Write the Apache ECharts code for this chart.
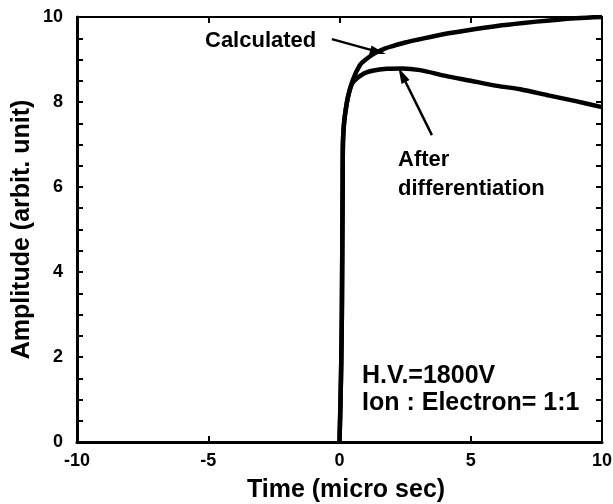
<!DOCTYPE html>
<html>
<head>
<meta charset="utf-8">
<script src="https://cdn.jsdelivr.net/npm/echarts@6/dist/echarts.min.js"></script>
<style>
  html, body { margin: 0; padding: 0; background: #fff; }
  #chart { width: 613px; height: 504px; }
</style>
</head>
<body>
<div id="chart"></div>
<script>
// Pulse shape of the detector signal: calculated and after differentiation
const timeCalculated = [0, 0.04, 0.07, 0.09, 0.10, 0.11, 0.12, 0.13, 0.16, 0.21, 0.32, 0.51, 0.78, 1.0, 1.35, 1.66, 2.0, 2.5, 3.0, 4.0, 5.0, 6.0, 7.0, 8.0, 9.0, 10.0];
const ampCalculated  = [0, 1.0, 2.0, 3.0, 4.0, 5.0, 6.0, 7.0, 7.4, 7.7, 8.12, 8.52, 8.87, 9.0, 9.15, 9.24, 9.31, 9.4, 9.47, 9.6, 9.7, 9.79, 9.86, 9.92, 9.97, 10.0];

const timeDiff = [0, 0.04, 0.07, 0.09, 0.10, 0.11, 0.12, 0.13, 0.16, 0.21, 0.32, 0.5, 0.9, 1.3, 1.8, 2.4, 3.07, 4.0, 5.0, 6.0, 6.88, 8.0, 9.0, 10.0];
const ampDiff  = [0, 1.0, 2.0, 3.0, 4.0, 5.0, 6.0, 7.0, 7.4, 7.7, 8.1, 8.45, 8.66, 8.74, 8.78, 8.79, 8.75, 8.62, 8.5, 8.38, 8.3, 8.15, 8.02, 7.88];

const xTicks = [-10, -5, 0, 5, 10];
const yTicks = [0, 2, 4, 6, 8, 10];

// Annotation arrows, in data coordinates: [tail, head]
const arrowCalculated = [[-0.29, 9.48], [1.47, 9.18]];
const arrowDiff = [[3.52, 7.22], [2.38, 8.64]];

const FONT = '"Liberation Sans", Arial, Helvetica, sans-serif';

function pairs(xs, ys) { return xs.map((x, i) => [x, ys[i]]); }

function arrow(seg) {
  return [
    { coord: seg[0], symbol: 'none' },
    { coord: seg[1], symbol: 'triangle', symbolSize: [9, 16] }
  ];
}

const chart = echarts.init(document.getElementById('chart'), null, { renderer: 'canvas' });

const tickLabel = { fontFamily: FONT, fontWeight: 'bold', fontSize: 18, color: '#000' };

chart.setOption({
  animation: false,
  backgroundColor: '#fff',
  grid: { left: 77, right: 11, top: 17, bottom: 62, containLabel: false, outerBoundsMode: 'none' },
  xAxis: [
    {
      type: 'value', min: xTicks[0], max: xTicks[xTicks.length - 1], interval: 5,
      position: 'bottom',
      name: 'Time (micro sec)', nameLocation: 'middle', nameGap: 36,
      nameTextStyle: { fontFamily: FONT, fontWeight: 'bold', fontSize: 25, color: '#000', padding: [0, 0, 0, 13] },
      axisLine: { show: true, onZero: false, lineStyle: { color: '#000', width: 3 } },
      axisTick: { show: true, inside: true, length: 6, lineStyle: { color: '#000', width: 2 } },
      axisLabel: Object.assign({ margin: 10 }, tickLabel),
      splitLine: { show: false }
    },
    {
      type: 'value', min: xTicks[0], max: xTicks[xTicks.length - 1], interval: 5,
      position: 'top',
      axisLine: { show: true, onZero: false, lineStyle: { color: '#000', width: 2 } },
      axisTick: { show: true, inside: true, length: 6, lineStyle: { color: '#000', width: 2 } },
      axisLabel: { show: false },
      splitLine: { show: false }
    }
  ],
  yAxis: [
    {
      type: 'value', min: yTicks[0], max: yTicks[yTicks.length - 1], interval: 2,
      position: 'left',
      name: 'Amplitude (arbit. unit)', nameLocation: 'middle', nameGap: 42, nameMoveOverlap: false,
      nameTextStyle: { fontFamily: FONT, fontWeight: 'bold', fontSize: 25, color: '#000' },
      axisLine: { show: true, onZero: false, lineStyle: { color: '#000', width: 3 } },
      axisTick: { show: true, inside: true, length: 6, lineStyle: { color: '#000', width: 2 } },
      minorTick: { show: true, splitNumber: 4, length: 6, lineStyle: { color: '#000', width: 2 } },
      axisLabel: Object.assign({ margin: 14 }, tickLabel),
      splitLine: { show: false }
    },
    {
      type: 'value', min: yTicks[0], max: yTicks[yTicks.length - 1], interval: 2,
      position: 'right',
      axisLine: { show: true, onZero: false, lineStyle: { color: '#000', width: 2 } },
      axisTick: { show: true, inside: true, length: 6, lineStyle: { color: '#000', width: 2 } },
      minorTick: { show: true, splitNumber: 4, length: 6, lineStyle: { color: '#000', width: 2 } },
      axisLabel: { show: false },
      splitLine: { show: false }
    }
  ],
  series: [
    {
      name: 'Calculated', type: 'line', xAxisIndex: 0, yAxisIndex: 0,
      data: pairs(timeCalculated, ampCalculated),
      showSymbol: false, smooth: 0.3, clip: true,
      lineStyle: { color: '#000', width: 4.5 },
      markLine: {
        silent: true, animation: false,
        lineStyle: { color: '#000', width: 2.5, type: 'solid' },
        label: { show: false },
        data: [arrow(arrowCalculated), arrow(arrowDiff)]
      }
    },
    {
      name: 'After differentiation', type: 'line', xAxisIndex: 0, yAxisIndex: 0,
      data: pairs(timeDiff, ampDiff),
      showSymbol: false, smooth: 0.3, clip: true,
      lineStyle: { color: '#000', width: 4.5 }
    }
  ],
  graphic: [
    { type: 'text', left: 205, top: 30, style: { text: 'Calculated', font: 'bold 22px ' + FONT, fill: '#000' } },
    { type: 'text', left: 398, top: 149, style: { text: 'After', font: 'bold 22px ' + FONT, fill: '#000' } },
    { type: 'text', left: 398, top: 178, style: { text: 'differentiation', font: 'bold 22px ' + FONT, fill: '#000' } },
    { type: 'text', left: 362, top: 364, style: { text: 'H.V.=1800V', font: 'bold 25px ' + FONT, fill: '#000' } },
    { type: 'text', left: 362, top: 391, style: { text: 'Ion : Electron= 1:1', font: 'bold 25px ' + FONT, fill: '#000' } }
  ]
});
</script>
</body>
</html>
